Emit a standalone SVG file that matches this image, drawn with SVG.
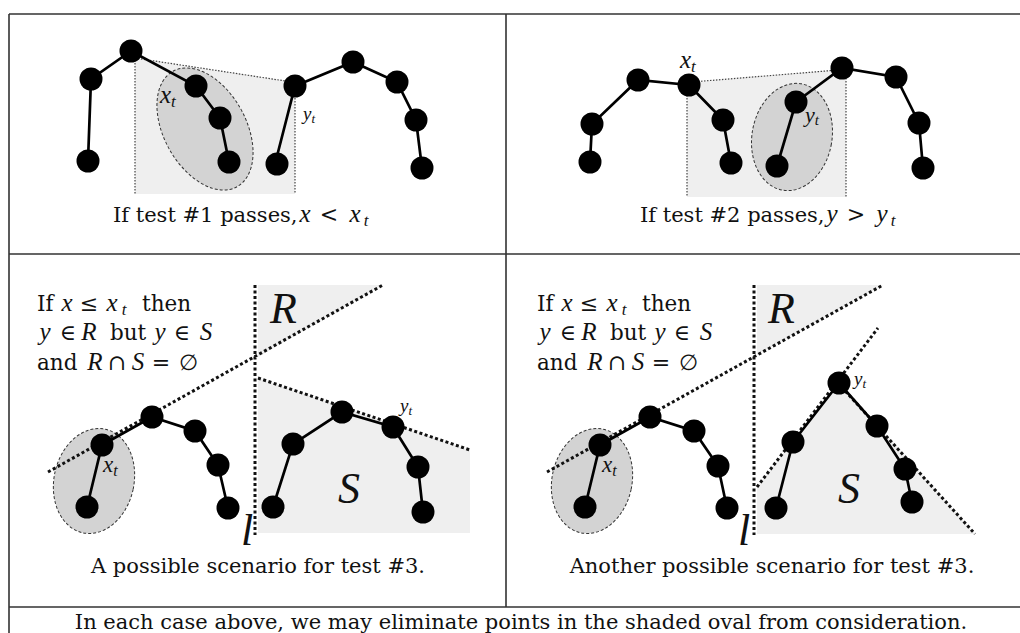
<svg xmlns="http://www.w3.org/2000/svg" width="1020" height="633" viewBox="0 0 1020 633">
<style>
.bg{fill:#fff}
.frame{stroke:#333;stroke-width:1.6;fill:none}
.shade{fill:#efefef;stroke:none}
.thin{stroke:#444;stroke-width:1.2;stroke-dasharray:1.5 1.5;fill:none}
.thick{stroke:#111;stroke-width:3;stroke-dasharray:3 2.5;fill:none}
.oval{fill:#d3d3d3;stroke:#333;stroke-width:1;stroke-dasharray:3 2}
.edge{stroke:#000;stroke-width:2.7;fill:none}
.node{fill:#000}
.txt{font-family:"DejaVu Serif",serif;font-size:21px;fill:#111}
.w{font-family:"DejaVu Serif",serif;font-size:21.5px;fill:#111}
.sy{font-family:"DejaVu Serif",serif;font-size:22px;fill:#111;text-anchor:middle}
.mi{font-family:"Liberation Serif",serif;font-style:italic;font-size:25px;fill:#111;text-anchor:middle}
.sub{font-family:"Liberation Serif",serif;font-style:italic;font-size:17px;fill:#111;text-anchor:middle}
.big{font-family:"Liberation Serif",serif;font-style:italic;font-size:44px;fill:#111}
.lab{font-family:"Liberation Serif",serif;font-style:italic;fill:#111}
</style>
<rect class="bg" x="0" y="0" width="1020" height="633"/>
<g id="table">
<path class="frame" d="M9 14H1020M9 14V633M506 14V607M9 254H1020M9 607H1020"/>
</g>

<!-- Panel 1 -->
<g id="panel1">
<path class="shade" d="M135 58L295 82V194H135Z"/>
<path class="thin" d="M135 58L292 82M135 60V194M295 92V194"/>
<ellipse class="oval" cx="205" cy="129" rx="41" ry="66" transform="rotate(-29 205 129)"/>
<g id="edges1"><path class="edge" d="M88 161L91 79L131 51L196 86L220 118L229 162M275 164L295 86L353 62L397 82L416 120L422 168"/></g>
<g class="node">
<circle cx="91" cy="79" r="11.5"/><circle cx="131" cy="51" r="11.5"/><circle cx="196" cy="86" r="11.5"/><circle cx="220" cy="118" r="11.5"/><circle cx="229" cy="162" r="11.5"/><circle cx="88" cy="161" r="11.5"/>
<circle cx="277" cy="164" r="11.5"/><circle cx="295" cy="86" r="11.5"/><circle cx="353" cy="62" r="11.5"/><circle cx="397" cy="82" r="11.5"/><circle cx="416" cy="120" r="11.5"/><circle cx="422" cy="168" r="11.5"/>
</g>
<text class="lab" x="160" y="103" font-size="25">x<tspan font-size="17" dy="4">t</tspan></text>
<text class="lab" x="303" y="120" font-size="19">y<tspan font-size="13" dy="3">t</tspan></text>
<text class="txt" x="113" y="222">If test #1 passes,</text>
<text class="mi" x="305" y="222">x</text>
<text class="sy" x="329" y="222">&lt;</text>
<text class="mi" x="355" y="222">x</text>
<text class="sub" x="366" y="226">t</text>
</g>

<!-- Panel 2 -->
<g id="panel2">
<path class="shade" d="M687 83L846 69V197H687Z"/>
<path class="thin" d="M692 82L838 70M687 92V197M846 78V197"/>
<ellipse class="oval" cx="792" cy="137" rx="40" ry="54" transform="rotate(10 792 137)"/>
<g id="edges2"><path class="edge" d="M590 162L592 124L638 80L689 85L723 120L731 163M777 166L796 102L842 68L896 77L919 123L923 168"/></g>
<g class="node">
<circle cx="590" cy="162" r="11.5"/><circle cx="592" cy="124" r="11.5"/><circle cx="638" cy="80" r="11.5"/><circle cx="689" cy="85" r="11.5"/><circle cx="723" cy="120" r="11.5"/><circle cx="731" cy="163" r="11.5"/>
<circle cx="777" cy="166" r="11.5"/><circle cx="796" cy="102" r="11.5"/><circle cx="842" cy="68" r="11.5"/><circle cx="896" cy="77" r="11.5"/><circle cx="919" cy="123" r="11.5"/><circle cx="923" cy="168" r="11.5"/>
</g>
<text class="lab" x="680" y="68" font-size="25">x<tspan font-size="17" dy="4">t</tspan></text>
<text class="lab" x="805" y="122" font-size="22">y<tspan font-size="15" dy="3">t</tspan></text>
<text class="txt" x="640" y="222">If test #2 passes,</text>
<text class="mi" x="832" y="222">y</text>
<text class="sy" x="856" y="222">&gt;</text>
<text class="mi" x="882" y="222">y</text>
<text class="sub" x="893" y="226">t</text>
</g>

<!-- Panel 3 -->
<g id="panel3">
<path class="shade" d="M258 285H383L258 357Z"/>
<path class="shade" d="M258 378L470 450V533H258Z"/>
<ellipse class="oval" cx="94" cy="481" rx="40" ry="53" transform="rotate(12 94 481)"/>
<path class="thick" d="M255 285V535M48 472L383 285M258 378L470 450"/>
<g id="edges3"><path class="edge" d="M87 507L102 445L152 417L195 431L218 465L228 508M273 507L293 444L342 412L393 427L418 467L423 512"/></g>
<g class="node">
<circle cx="87" cy="507" r="11.5"/><circle cx="102" cy="445" r="11.5"/><circle cx="152" cy="417" r="11.5"/><circle cx="195" cy="431" r="11.5"/><circle cx="218" cy="465" r="11.5"/><circle cx="228" cy="508" r="11.5"/>
<circle cx="273" cy="507" r="11.5"/><circle cx="293" cy="444" r="11.5"/><circle cx="342" cy="412" r="11.5"/><circle cx="393" cy="427" r="11.5"/><circle cx="418" cy="467" r="11.5"/><circle cx="423" cy="512" r="11.5"/>
</g>
<text class="lab" x="103" y="472" font-size="23">x<tspan font-size="16" dy="4">t</tspan></text>
<text class="lab" x="400" y="412" font-size="19">y<tspan font-size="13" dy="3">t</tspan></text>
<text class="big" x="270" y="323">R</text>
<text class="big" x="338" y="503">S</text>
<text class="big" x="241" y="545">l</text>
<g id="cond3">
<text class="w" x="37" y="311">If</text><text class="mi" x="67" y="311">x</text><text class="sy" x="89" y="311">≤</text><text class="mi" x="112" y="311">x</text><text class="sub" x="124" y="315">t</text><text class="w" x="142" y="311">then</text>
<text class="mi" x="45" y="340">y</text><text class="sy" x="68" y="340">∈</text><text class="mi" x="89" y="340">R</text><text class="w" x="110" y="340">but</text><text class="mi" x="160" y="340">y</text><text class="sy" x="182" y="340">∈</text><text class="mi" x="206" y="340">S</text>
<text class="w" x="37" y="370">and</text><text class="mi" x="95" y="370">R</text><text class="sy" x="117" y="370">∩</text><text class="mi" x="138" y="370">S</text><text class="sy" x="161" y="370">=</text><text class="sy" x="188" y="370">∅</text>
</g>
<text class="txt" x="258" y="573" text-anchor="middle">A possible scenario for test #3.</text>
</g>

<!-- Panel 4 -->
<g id="panel4">
<path class="shade" d="M757 285H883L757 355Z"/>
<path class="shade" d="M757 487L839 381L975 534H757Z"/>
<ellipse class="oval" cx="592" cy="481" rx="40" ry="53" transform="rotate(12 592 481)"/>
<path class="thick" d="M754 285V535M547 472L883 285M757 487L878 328M838 383L975 534"/>
<g id="edges4"><path class="edge" d="M585 507L600 445L650 417L694 431L718 466L727 508M776 508L793 442L839 383L877 426L905 469L912 502"/></g>
<g class="node">
<circle cx="585" cy="507" r="11.5"/><circle cx="600" cy="445" r="11.5"/><circle cx="650" cy="417" r="11.5"/><circle cx="694" cy="431" r="11.5"/><circle cx="718" cy="466" r="11.5"/><circle cx="727" cy="508" r="11.5"/>
<circle cx="776" cy="508" r="11.5"/><circle cx="793" cy="442" r="11.5"/><circle cx="839" cy="383" r="11.5"/><circle cx="877" cy="426" r="11.5"/><circle cx="905" cy="469" r="11.5"/><circle cx="912" cy="502" r="11.5"/>
</g>
<text class="lab" x="602" y="472" font-size="23">x<tspan font-size="16" dy="4">t</tspan></text>
<text class="lab" x="854" y="385" font-size="19">y<tspan font-size="13" dy="3">t</tspan></text>
<text class="big" x="768" y="323">R</text>
<text class="big" x="838" y="503">S</text>
<text class="big" x="738" y="545">l</text>
<g id="cond4">
<text class="w" x="537" y="311">If</text><text class="mi" x="567" y="311">x</text><text class="sy" x="589" y="311">≤</text><text class="mi" x="612" y="311">x</text><text class="sub" x="624" y="315">t</text><text class="w" x="642" y="311">then</text>
<text class="mi" x="545" y="340">y</text><text class="sy" x="568" y="340">∈</text><text class="mi" x="589" y="340">R</text><text class="w" x="610" y="340">but</text><text class="mi" x="660" y="340">y</text><text class="sy" x="682" y="340">∈</text><text class="mi" x="706" y="340">S</text>
<text class="w" x="537" y="370">and</text><text class="mi" x="595" y="370">R</text><text class="sy" x="617" y="370">∩</text><text class="mi" x="638" y="370">S</text><text class="sy" x="661" y="370">=</text><text class="sy" x="688" y="370">∅</text>
</g>
<text class="txt" x="772" y="573" text-anchor="middle">Another possible scenario for test #3.</text>
</g>

<text class="txt" x="521" y="629" text-anchor="middle">In each case above, we may eliminate points in the shaded oval from consideration.</text>
</svg>
